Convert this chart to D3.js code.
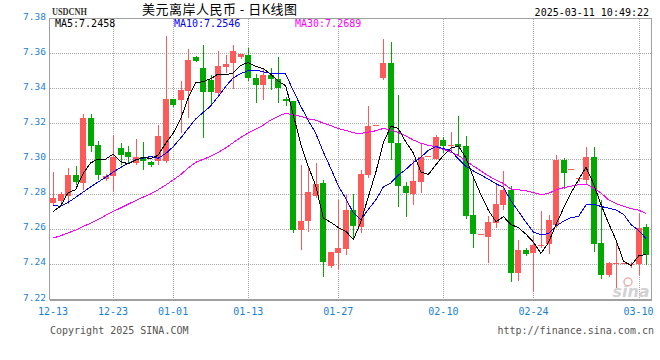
<!DOCTYPE html>
<html><head><meta charset="utf-8">
<script src="https://cdn.jsdelivr.net/npm/d3@7"></script>
<style>body{margin:0;background:#fff}svg{display:block}</style>
</head><body><svg id="c" width="660" height="360"></svg>
<script>
const openV=[7.2745,7.2760,7.2789,7.2905,7.2863,7.3229,7.3076,7.2882,7.2899,7.3060,
7.3038,7.2973,7.3011,7.2979,7.2988,7.2988,7.3336,7.3334,7.3387,7.3577,
7.3516,7.3448,7.3372,7.3520,7.3545,7.3577,7.3591,7.3461,7.3419,7.3476,
7.3454,7.3338,7.3326,7.2595,7.2642,7.2789,7.2861,7.2390,7.2464,7.2487,
7.2707,7.2608,7.2908,7.3188,7.3457,7.3545,7.3087,7.2844,7.2798,7.2869,
7.3012,7.3000,7.3106,7.3072,7.3083,7.3072,7.2678,7.2570,7.2555,7.2635,
7.2738,7.2821,7.2346,7.2479,7.2460,7.2508,7.2513,7.2623,7.2994,7.2938,
7.2887,7.2880,7.3009,7.2519,7.2337,7.2405,7.2405,7.2397,7.2399,7.2612];
const highV=[7.2922,7.2808,7.2946,7.2960,7.3254,7.3254,7.3102,7.2912,7.3136,7.3087,
7.3074,7.3110,7.3095,7.2983,7.3192,7.3695,7.3340,7.3444,7.3625,7.3583,
7.3647,7.3476,7.3613,7.3591,7.3647,7.3596,7.3630,7.3482,7.3511,7.3516,
7.3579,7.3353,7.3326,7.2964,7.2950,7.2975,7.2880,7.2468,7.2766,7.2798,
7.2798,7.2937,7.3300,7.3190,7.3682,7.3665,7.3364,7.2865,7.2994,7.3083,
7.3014,7.3133,7.3125,7.3150,7.3243,7.3127,7.2903,7.2572,7.2675,7.2855,
7.2931,7.2846,7.2536,7.2490,7.2557,7.2703,7.2678,7.3019,7.3003,7.2940,
7.2893,7.3068,7.3068,7.2766,7.2409,7.2528,7.2407,7.2409,7.2690,7.2627];
const lowV=[7.2741,7.2751,7.2745,7.2855,7.2827,7.3041,7.2884,7.2878,7.2823,7.2966,
7.2979,7.2969,7.2939,7.2958,7.2966,7.2979,7.3298,7.3150,7.3235,7.3556,
7.3121,7.3302,7.3362,7.3492,7.3400,7.3575,7.3448,7.3324,7.3340,7.3397,
7.3321,7.3305,7.2580,7.2485,7.2589,7.2779,7.2333,7.2380,7.2371,7.2456,
7.2555,7.2580,7.2893,7.3188,7.3450,7.2998,7.2732,7.2675,7.2741,7.2808,
7.3012,7.2998,7.3036,7.3041,7.3026,7.2661,7.2498,7.2570,7.2412,7.2608,
7.2713,7.2300,7.2310,7.2452,7.2247,7.2494,7.2462,7.2608,7.2832,7.2938,
7.2874,7.2859,7.2471,7.2320,7.2333,7.2266,7.2405,7.2380,7.2342,7.2399];
const closeV=[7.2775,7.2796,7.2905,7.2865,7.3231,7.3074,7.2908,7.2903,7.3007,7.3022,
7.3011,7.3007,7.2988,7.2962,7.3129,7.3340,7.3302,7.3389,7.3562,7.3558,
7.3381,7.3380,7.3524,7.3539,7.3613,7.3596,7.3461,7.3416,7.3476,7.3452,
7.3402,7.3326,7.2593,7.2642,7.2810,7.2855,7.2412,7.2468,7.2490,7.2707,
7.2614,7.2912,7.3186,7.3190,7.3545,7.3087,7.2846,7.2804,7.2874,7.3007,
7.3014,7.3123,7.3072,7.3079,7.3068,7.2675,7.2572,7.2572,7.2639,7.2741,
7.2823,7.2346,7.2479,7.2458,7.2509,7.2510,7.2650,7.2994,7.2920,7.2940,
7.2889,7.3009,7.2515,7.2337,7.2405,7.2407,7.2407,7.2401,7.2604,7.2452];
const ma5V=[7.2698,7.2728,7.2805,7.2822,7.2914,7.2974,7.2997,7.2996,7.3025,7.2983,
7.2970,7.2990,7.3007,7.2998,7.3019,7.3085,7.3144,7.3224,7.3344,7.3430,
7.3438,7.3454,7.3481,7.3476,7.3487,7.3530,7.3547,7.3525,7.3512,7.3480,
7.3441,7.3414,7.3250,7.3083,7.2955,7.2845,7.2662,7.2637,7.2607,7.2586,
7.2538,7.2638,7.2782,7.2922,7.3089,7.3184,7.3171,7.3094,7.3031,7.2924,
7.2909,7.2964,7.3018,7.3059,7.3071,7.3003,7.2893,7.2793,7.2705,7.2640,
7.2669,7.2624,7.2606,7.2569,7.2523,7.2460,7.2521,7.2624,7.2717,7.2803,
7.2879,7.2950,7.2855,7.2738,7.2631,7.2535,7.2414,7.2391,7.2445,7.2454];
const ma10V=[7.2735,7.2727,7.2750,7.2778,7.2808,7.2838,7.2866,7.2893,7.2922,7.2949,
7.2972,7.2993,7.3002,7.3011,7.3001,7.3028,7.3067,7.3116,7.3171,7.3225,
7.3262,7.3299,7.3353,7.3410,7.3459,7.3484,7.3500,7.3503,7.3494,7.3484,
7.3486,7.3481,7.3387,7.3298,7.3217,7.3143,7.3038,7.2944,7.2845,7.2771,
7.2692,7.2650,7.2710,7.2764,7.2838,7.2861,7.2905,7.2938,7.2977,7.3007,
7.3047,7.3068,7.3056,7.3045,7.2997,7.2956,7.2929,7.2906,7.2882,7.2856,
7.2836,7.2759,7.2699,7.2637,7.2581,7.2565,7.2573,7.2615,7.2643,7.2663,
7.2670,7.2736,7.2739,7.2727,7.2717,7.2707,7.2682,7.2623,7.2591,7.2543];
const ma30V=[7.2547,7.2560,7.2576,7.2592,7.2612,7.2632,7.2652,7.2676,7.2698,7.2718,
7.2740,7.2760,7.2780,7.2798,7.2822,7.2848,7.2878,7.2908,7.2945,7.2978,
7.2995,7.3012,7.3035,7.3060,7.3090,7.3120,7.3145,7.3166,7.3190,7.3219,
7.3240,7.3258,7.3247,7.3240,7.3226,7.3218,7.3202,7.3187,7.3170,7.3160,
7.3146,7.3143,7.3150,7.3158,7.3171,7.3163,7.3148,7.3128,7.3105,7.3087,
7.3075,7.3066,7.3051,7.3036,7.3018,7.2987,7.2957,7.2929,7.2901,7.2878,
7.2858,7.2826,7.2822,7.2816,7.2806,7.2794,7.2802,7.2820,7.2834,7.2842,
7.2851,7.2854,7.2832,7.2803,7.2765,7.2743,7.2728,7.2715,7.2706,7.2687];
const tickLabels=["12-13","12-23","01-01","01-13","01-27","02-10","02-24","03-10"];
const tickIndex=[0,8,16,26,38,52,64,78];
const yTicks=[7.22,7.24,7.26,7.28,7.30,7.32,7.34,7.36,7.38];
const legendNames=["MA5","MA10","MA30"];
const legendValues=["7.2458","7.2546","7.2689"];
const legendColors=["#000000","#0000ff","#ff00ff"];
const titleSymbol="USDCNH";
const titleText="美元离岸人民币 - 日K线图";
const stamp="2025-03-11 10:49:22";

const svg=d3.select("#c");
const n=closeV.length;
const x=d3.scaleLinear().domain([0,n-1]).range([53,646.1]);
const y=d3.scaleLinear().domain([7.22,7.38]).range([299,18]);
const L=49.5,R=651.5,T=18.5,B=299.5;
const mono="'DejaVu Sans Mono', monospace";
const blue="#1b7fd6";
const cR="#ff5a5a", cG="#00a800";

// grid
const g=svg.append("g").attr("shape-rendering","crispEdges");
g.selectAll(".hg").data(yTicks.slice(1)).join("line")
  .attr("x1",L).attr("x2",R)
  .attr("y1",d=>Math.round(y(d))+0.5).attr("y2",d=>Math.round(y(d))+0.5)
  .attr("stroke","#a8a8a8").attr("stroke-dasharray","1,1");
g.selectAll(".vg").data(tickIndex.slice(1)).join("line")
  .attr("x1",d=>Math.round(x(d))+0.5).attr("x2",d=>Math.round(x(d))+0.5)
  .attr("y1",T).attr("y2",B)
  .attr("stroke","#a8a8a8").attr("stroke-dasharray","1,1");
g.append("rect").attr("x",L).attr("y",T).attr("width",R-L).attr("height",B-T)
  .attr("fill","none").attr("stroke","#a0a0a0").attr("stroke-width",1);
g.append("line").attr("x1",L).attr("x2",R).attr("y1",B+1).attr("y2",B+1).attr("stroke","#a0a0a0");

// y labels
svg.selectAll(".yl").data(yTicks).join("text")
  .attr("x",46).attr("y",d=>y(d)+1.5).attr("text-anchor","end")
  .attr("font-family",mono).attr("font-size","9.5px").attr("fill",blue)
  .text(d=>d.toFixed(2));
// x labels
svg.selectAll(".xl").data(tickIndex).join("text")
  .attr("x",d=>x(d)).attr("y",314.5).attr("text-anchor","middle")
  .attr("font-family",mono).attr("font-size","10px").attr("fill",blue)
  .text((d,i)=>tickLabels[i]);

// candles
const idx=d3.range(n);
const cg=svg.append("g").attr("shape-rendering","crispEdges");
cg.selectAll(".wick").data(idx).join("rect")
  .attr("x",i=>Math.round(x(i)))
  .attr("width",1)
  .attr("y",i=>Math.round(y(highV[i])))
  .attr("height",i=>Math.max(1,Math.round(y(lowV[i]))-Math.round(y(highV[i]))+1))
  .attr("fill",i=>closeV[i]>=openV[i]?cR:cG);
cg.selectAll(".body").data(idx).join("rect")
  .attr("x",i=>Math.round(x(i))-3)
  .attr("width",6)
  .attr("y",i=>Math.round(y(Math.max(openV[i],closeV[i]))))
  .attr("height",i=>Math.max(1,Math.round(y(Math.min(openV[i],closeV[i])))-Math.round(y(Math.max(openV[i],closeV[i])))))
  .attr("fill",i=>closeV[i]>=openV[i]?cR:cG);

// MA lines
const line=arr=>d3.line().x((d,i)=>x(i)).y(d=>y(d))(arr);
[[ma30V,"#ff00ff"],[ma10V,"#0000ff"],[ma5V,"#000000"]].forEach(([arr,col])=>{
  svg.append("path").attr("d",line(arr)).attr("fill","none").attr("stroke",col)
    .attr("stroke-width",1).attr("shape-rendering","crispEdges");
});

// legend
const lx=[55,174,295];
legendNames.forEach((nm,i)=>{
  svg.append("text").attr("x",lx[i]).attr("y",26.5)
    .attr("font-family",mono).attr("font-size","10px").attr("fill",legendColors[i])
    .text(nm+":"+legendValues[i]);
});

// titles
svg.append("text").attr("x",52).attr("y",15).attr("font-family","'Liberation Serif', serif")
  .attr("font-weight","bold").attr("font-size","10.5px").attr("fill","#333")
  .attr("textLength",35).attr("lengthAdjust","spacingAndGlyphs").text(titleSymbol);
svg.append("text").attr("x",142).attr("y",13.5).attr("font-family","'Noto Sans CJK SC', sans-serif")
  .attr("font-size","13px").attr("fill","#000")
  .attr("textLength",155).attr("lengthAdjust","spacing").attr("xml:space","preserve").text(titleText);
svg.append("text").attr("x",649).attr("y",16).attr("text-anchor","end")
  .attr("font-family",mono).attr("font-size","10px").attr("fill","#000").text(stamp);

// footer
svg.append("text").attr("x",50).attr("y",333.5).attr("font-family",mono)
  .attr("font-size","10px").attr("fill","#555").text("Copyright 2025 SINA.COM");
svg.append("text").attr("x",654).attr("y",333.5).attr("text-anchor","end").attr("font-family",mono)
  .attr("font-size","10px").attr("fill","#555").text("http://finance.sina.com.cn");

// watermark
svg.append("circle").attr("cx",628).attr("cy",282).attr("r",4).attr("fill","none")
  .attr("stroke","#f2b0b0").attr("stroke-width",1.5);
svg.append("text").attr("x",631).attr("y",297).attr("text-anchor","middle")
  .attr("font-family","'DejaVu Sans', sans-serif").attr("font-style","italic").attr("font-weight","bold")
  .attr("font-size","16px").attr("fill","#c8c8c8").attr("opacity",0.8).text("sina");
</script></body></html>
